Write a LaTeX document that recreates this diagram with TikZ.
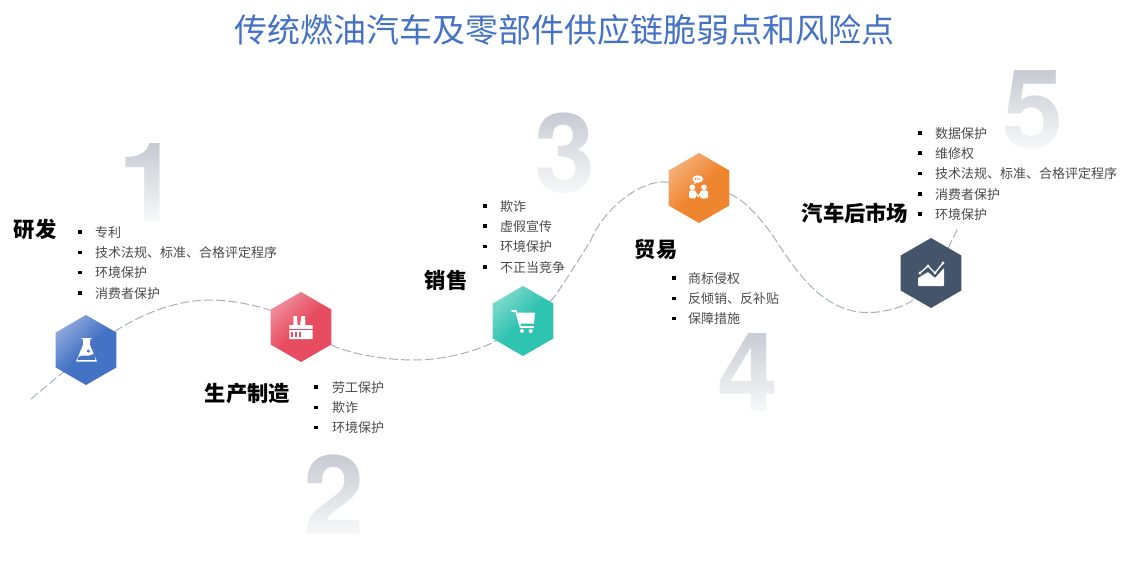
\documentclass[tikz,border=0pt]{standalone}
\usepackage{fontspec}
\setmainfont{Noto Sans CJK SC}
\newfontfamily\digitfont{TeX Gyre Heros}
\usetikzlibrary{shapes.geometric,fadings}
\pgfdeclarelayer{back}
\pgfdeclarelayer{lines}
\pgfsetlayers{back,lines,main}
\definecolor{titleblue}{HTML}{4472C4}
\definecolor{hexnavy}{HTML}{44546A}
\definecolor{digitgray}{HTML}{C3C7D0}
\definecolor{curvegray}{HTML}{A8AFBF}
\definecolor{listgray}{HTML}{4A4A4A}
\definecolor{blueA}{HTML}{8CA6DC}
\definecolor{redA}{HTML}{EE8A98}
\definecolor{redB}{HTML}{E84C60}
\definecolor{tealA}{HTML}{7CD9CC}
\definecolor{tealB}{HTML}{2FC3B1}
\definecolor{orangeA}{HTML}{F4AF78}
\definecolor{orangeB}{HTML}{F08530}
\tikzfading[name=digitfade, top color=transparent!100, bottom color=transparent!8]
\tikzset{
  hex/.style n args={2}{regular polygon,regular polygon sides=6,shape border rotate=30,
     minimum size=70pt,inner sep=0pt,outer sep=0pt,
     left color=#1,right color=#2,middle color=#2,shading angle=45},
  flatnavy/.style={regular polygon,regular polygon sides=6,shape border rotate=30,
     minimum size=70pt,inner sep=0pt,outer sep=0pt,fill=hexnavy},
  curve/.style={draw=curvegray,line width=1pt,dash pattern=on 9pt off 3pt},
  heading/.style={inner sep=0pt,font=\fontsize{21.3}{24}\selectfont\bfseries,text=black},
  listitem/.style={anchor=west,inner sep=0pt,yshift=-0.4pt,font=\fontsize{13}{15}\selectfont,text=listgray},
  listbullet/.style={fill=black,minimum size=3.6pt,inner sep=0pt,outer sep=0pt},
  digit/.style={inner sep=0pt,text=digitgray,font=\digitfont\bfseries\fontsize{110}{110}\selectfont},
  veil/.style={fill=white,path fading=digitfade,fit fading=true}
}
\newcommand\itemlist[5]{%
  \foreach \t [count=\i] in {#5}{
    \node[listbullet] (#1b\i) at (#2,{#4+(\i-1)*20.3}) {};
    \node[listitem] (#1t\i) at (#3,{#4+(\i-1)*20.3}) {\t};
  }}
\begin{document}
\begin{tikzpicture}[x=1pt,y=-1pt]
\useasboundingbox (0,0) rectangle (1127,564);
% hexagons
\node[hex={blueA}{titleblue}] (blue) at (86,350) {};
\node[hex={redA}{redB}] (red) at (301,327) {};
\node[hex={tealA}{tealB}] (teal) at (523,321) {};
\node[hex={orangeA}{orangeB}] (orange) at (699,188) {};
\node[flatnavy] (navy) at (931,273) {};
% title
\node[inner sep=0pt,text=titleblue,font=\fontsize{33}{38}\selectfont] (title) at (564.5,30) {传统燃油汽车及零部件供应链脆弱点和风险点};
% digits
\begin{pgfonlayer}{back}
\node[digit,anchor=base] (d1) at (149.5,222) {1};
\node[digit,anchor=base] (d2) at (334.5,534) {2};
\node[digit,anchor=base] (d3) at (565,193) {3};
\node[digit,anchor=base] (d4) at (748.5,411) {4};
\node[digit,anchor=base] (d5) at (1033,149) {5};
\path[veil] (120,138) rectangle (175,224);
\path[veil] (300,449) rectangle (370,537);
\path[veil] (530,105) rectangle (600,197);
\path[veil] (712,324) rectangle (785,414);
\path[veil] (998,65) rectangle (1068,152);
\end{pgfonlayer}
% connector curve
\coordinate (start) at (31,399);
\coordinate (endp) at (958,228);
\coordinate (a2) at (210,300);
\coordinate (b2) at (414,360);
\coordinate (c2) at (590,242);
\coordinate (e2) at (777,242);
\coordinate (e4) at (868,312.5);
\begin{pgfonlayer}{lines}
\draw[curve] (start) .. controls (50,383) and (68,368) .. (blue);
\draw[curve] (blue) .. controls (140,315) and (175,300) .. (a2) .. controls (240,300) and (270,310) .. (red);
\draw[curve] (red) .. controls (340,350) and (375,360) .. (b2) .. controls (455,360) and (490,345) .. (teal);
\draw[curve] (teal) .. controls (555,298) and (575,265) .. (c2) .. controls (605,205) and (645,178) .. (orange);
\draw[curve] (orange) .. controls (735,195) and (755,208) .. (e2) .. controls (797,273) and (825,313) .. (e4) .. controls (885,313) and (910,305) .. (navy);
\draw[curve] (navy) .. controls (940,262) and (950,245) .. (endp);
\end{pgfonlayer}
% headings
\node[heading] (h1) at (35,229.5) {研发};
\node[heading] (h2) at (247.5,393.5) {生产制造};
\node[heading] (h3) at (446,280.5) {销售};
\node[heading] (h4) at (656,249.5) {贸易};
\node[heading] (h5) at (855,213.5) {汽车后市场};
% lists
\itemlist{A}{80}{95}{232}{专利,技术法规、标准、合格评定程序,环境保护,消费者保护}
\itemlist{B}{316}{332}{387}{劳工保护,欺诈,环境保护}
\itemlist{C}{485}{500}{206}{欺诈,虚假宣传,环境保护,不正当竞争}
\itemlist{D}{674}{688}{278}{商标侵权,反倾销、反补贴,保障措施}
\itemlist{E}{920}{935}{133}{数据保护,维修权,技术法规、标准、合格评定程序,消费者保护,环境保护}
% flask icon
\begin{scope}[shift={(blue)}]
  \fill[white,line join=round] (-4.3,-12) -- (5.7,-12) -- (5.7,-11) -- (4,-11) -- (4,-5) -- (11,11.5) -- (-10,11.5) -- (-3,-5) -- (-3,-11) -- (-4.3,-11) -- cycle;
  \fill[titleblue] (-7.8,7) .. controls (-3,3.5) and (3,8) .. (8.2,3.5) -- (9.3,9.8) -- (-8.5,9.8) -- cycle;
  \fill[titleblue] (2.3,1) circle (1.7pt);
\end{scope}
% factory icon
\begin{scope}[shift={(red)}]
  \fill[white] (-11.7,-2) -- (-7.7,-2) -- (-7.7,-11) -- (-4.3,-11) -- (-3.3,-2) -- (-1,-2) -- (0.5,-11) -- (4,-11) -- (4.5,-2) -- (11.7,-2) -- (11.7,12) -- (-11.7,12) -- cycle;
  \fill[redB] (-11.7,1.5) rectangle (11.7,2.1);
  \foreach \wx in {-9.8,-6,-2.2}{\fill[redB] (\wx,5) rectangle ++(2.2,4.5);}
\end{scope}
% cart icon
\begin{scope}[shift={(teal)}]
  \draw[white,line width=1.7pt,line join=round,line cap=round] (-11,-10) -- (-7,-10) -- (-2.5,6) -- (10.5,6);
  \fill[white] (-5.5,-8.5) -- (12,-8.5) -- (11,2.5) -- (-2.8,2.5) -- cycle;
  \fill[white] (-1,10) circle (2pt);
  \fill[white] (7.7,10) circle (2pt);
\end{scope}
% people icon
\begin{scope}[shift={(orange)}]
  \fill[white] (-1.3,-9) ellipse (5.5pt and 3.7pt);
  \fill[white] (-4,-6) -- (-5.5,-3.5) -- (-1.5,-6) -- cycle;
  \foreach \dx in {-3.5,-1.3,0.9}{\fill[orangeB] (\dx,-9) circle (0.8pt);}
  \fill[white] (-6.7,-0.7) circle (2.8pt);
  \fill[white] (5,-0.7) circle (2.8pt);
  \fill[white,rounded corners=1.5pt] (-10,10.5) -- (-10,2.4) -- (-3,2.4) -- (-3,10.5) -- cycle;
  \fill[white,rounded corners=1.5pt] (1.2,10.5) -- (1.2,2.4) -- (9,2.4) -- (9,10.5) -- cycle;
  \draw[white,line width=1.1pt] (-3.2,5) -- (-0.8,8.6) -- (1.4,5);
\end{scope}
% chart icon
\begin{scope}[shift={(navy)}]
  \fill[white,rounded corners=0.8pt] (-13,5) -- (-3,-1) -- (4,5) -- (13,-5) -- (13,13) -- (-13,13) -- cycle;
  \draw[white,line width=1.3pt] (-11,0) -- (-3,-7) -- (4,0) -- (12,-10);
  \foreach \p in {(-11,0),(-3,-7),(4,0),(12,-10)}{\fill[white] \p circle (1.7pt);}
\end{scope}
\end{tikzpicture}
\end{document}
